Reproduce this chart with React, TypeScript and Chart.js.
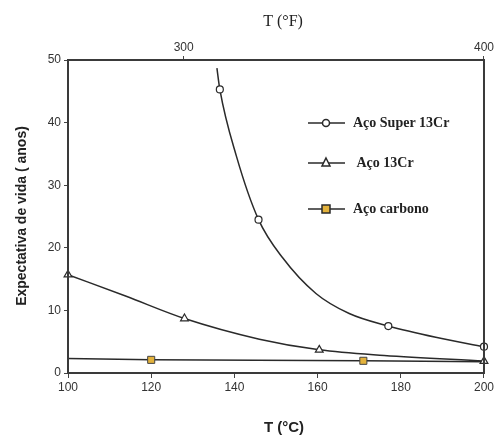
import React, { useEffect, useRef } from "react";
import { Chart, registerables } from "chart.js";
Chart.register(...registerables);

const superX = [135.8, 136.5, 140.5, 145.8, 151.6, 159.6, 167.6, 177, 188.4, 200];
const superY = [48.7, 45.3, 34.6, 24.5, 18.4, 12.7, 9.5, 7.5, 5.7, 4.2];
const superMarks = [0, 1, 0, 1, 0, 0, 0, 1, 0, 1];
// Aço 13Cr
const cr13X = [100, 114, 128, 146, 160.4, 176, 200];
const cr13Y = [15.7, 12.25, 8.7, 5.4, 3.7, 2.8, 1.9];
const cr13Marks = [1, 0, 1, 0, 1, 0, 1];
// Aço carbono
const carbX = [100, 120, 171, 200];
const carbY = [2.3, 2.1, 1.95, 1.8];
const carbMarks = [0, 1, 1, 0];

const xTicksC = [100, 120, 140, 160, 180, 200];
const xTicksF = [300, 400];
const yTicks = [0, 10, 20, 30, 40, 50];
const legendLabels = ["Aço Super 13Cr", " Aço 13Cr", "Aço carbono"];

const LINE = "#2a2a2a";
const ORANGE = "#e3b23c";

const zip = (xs: number[], ys: number[]) => xs.map((x, i) => ({ x, y: ys[i] }));

const overlay = {
  id: "overlay",
  afterDraw(chart: any) {
    const { ctx, chartArea: a } = chart;
    ctx.save();
    ctx.strokeStyle = "#3a3a3a";
    ctx.lineWidth = 2;
    ctx.strokeRect(a.left, a.top, a.right - a.left, a.bottom - a.top);
    const entries = [
      { y: 123, style: "circle", fill: "#fff", r: 3.5 },
      { y: 163, style: "triangle", fill: "#fff", r: 4 },
      { y: 209, style: "rect", fill: ORANGE, r: 4 },
    ];
    entries.forEach((e, i) => {
      ctx.strokeStyle = LINE;
      ctx.lineWidth = 1.5;
      ctx.beginPath();
      ctx.moveTo(308, e.y);
      ctx.lineTo(345, e.y);
      ctx.stroke();
      ctx.fillStyle = e.fill;
      ctx.beginPath();
      const cx = 326;
      if (e.style === "circle") {
        ctx.arc(cx, e.y, e.r, 0, Math.PI * 2);
      } else if (e.style === "triangle") {
        ctx.moveTo(cx, e.y - e.r - 1);
        ctx.lineTo(cx + e.r, e.y + e.r - 1);
        ctx.lineTo(cx - e.r, e.y + e.r - 1);
        ctx.closePath();
      } else {
        ctx.rect(cx - e.r, e.y - e.r, e.r * 2, e.r * 2);
      }
      ctx.fill();
      ctx.stroke();
      ctx.fillStyle = "#222";
      ctx.font = "bold 14px 'Liberation Serif'";
      ctx.textBaseline = "middle";
      ctx.textAlign = "left";
      ctx.fillText(legendLabels[i], 353, e.y);
    });
    ctx.fillStyle = "#222";
    ctx.textAlign = "center";
    ctx.textBaseline = "middle";
    ctx.font = "16px 'Liberation Serif'";
    ctx.fillText("T (°F)", 283, 22);
    ctx.font = "bold 15px 'Liberation Sans'";
    ctx.fillText("T (°C)", 284, 428);
    ctx.translate(22, 216);
    ctx.rotate(-Math.PI / 2);
    ctx.font = "bold 14px 'Liberation Sans'";
    ctx.fillText("Expectativa de vida ( anos)", 0, 0);
    ctx.restore();
  },
};

export default function App() {
  const ref = useRef<HTMLCanvasElement>(null);
  useEffect(() => {
    document.body.style.margin = "0";
    const tickFont = { family: "'Liberation Sans'", size: 12 };
    const chart = new Chart(ref.current!, {
      type: "line",
      data: {
        datasets: [
          {
            data: zip(superX, superY),
            borderColor: LINE,
            borderWidth: 1.5,
            cubicInterpolationMode: "monotone",
            pointStyle: "circle",
            pointRadius: superMarks.map((m) => m * 3.5),
            pointBackgroundColor: "#fff",
            pointBorderColor: LINE,
            pointBorderWidth: 1.2,
            clip: 6,
          } as any,
          {
            data: zip(cr13X, cr13Y),
            borderColor: LINE,
            borderWidth: 1.5,
            cubicInterpolationMode: "monotone",
            pointStyle: "triangle",
            pointRadius: cr13Marks.map((m) => m * 4.5),
            pointBackgroundColor: "#fff",
            pointBorderColor: LINE,
            pointBorderWidth: 1.2,
            clip: 6,
          },
          {
            data: zip(carbX, carbY),
            borderColor: LINE,
            borderWidth: 1.5,
            tension: 0,
            pointStyle: "rect",
            pointRadius: carbMarks.map((m) => m * 5),
            pointBackgroundColor: ORANGE,
            pointBorderColor: "#444",
            pointBorderWidth: 1,
          },
        ],
      },
      options: {
        animation: false,
        responsive: false,
        layout: { padding: { left: 0, right: 11, top: 0, bottom: 0 } },
        plugins: { legend: { display: false }, tooltip: { enabled: false } },
        scales: {
          x: {
            type: "linear",
            position: "bottom",
            min: 100,
            max: 200,
            afterBuildTicks: (s: any) => {
              s.ticks = xTicksC.map((v) => ({ value: v }));
            },
            afterFit: (s: any) => {
              s.height = 68;
            },
            grid: { drawOnChartArea: false, drawTicks: true, tickLength: 5, color: "#444" },
            border: { display: false },
            ticks: { font: tickFont, color: "#333", padding: 2 },
          },
          x2: {
            type: "linear",
            position: "top",
            min: 261.5,
            max: 400,
            afterBuildTicks: (s: any) => {
              s.ticks = xTicksF.map((v) => ({ value: v }));
            },
            afterFit: (s: any) => {
              s.height = 60;
            },
            grid: { drawOnChartArea: false, drawTicks: true, tickLength: 4, color: "#444" },
            border: { display: false },
            ticks: { font: tickFont, color: "#333", padding: 1 },
          },
          y: {
            type: "linear",
            min: 0,
            max: 50,
            afterBuildTicks: (s: any) => {
              s.ticks = yTicks.map((v) => ({ value: v }));
            },
            afterFit: (s: any) => {
              s.width = 68;
            },
            grid: { drawOnChartArea: false, drawTicks: true, tickLength: 4, color: "#444" },
            border: { display: false },
            ticks: { font: tickFont, color: "#333", padding: 3 },
          },
        },
      },
      plugins: [overlay],
    } as any);
    return () => chart.destroy();
  }, []);
  return <canvas ref={ref} width={496} height={441} style={{ display: "block" }} />;
}
